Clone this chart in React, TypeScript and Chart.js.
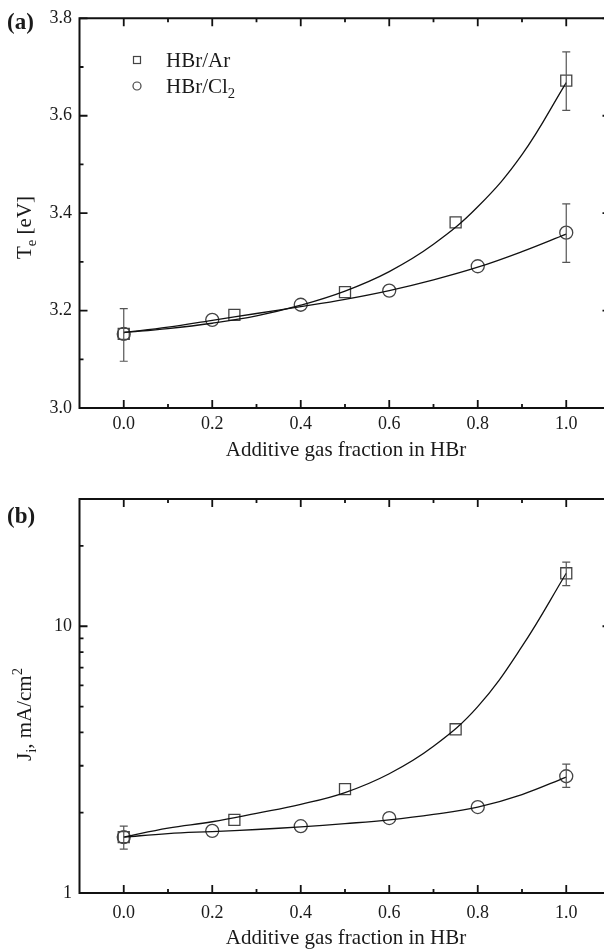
import React, { useEffect, useRef } from 'react';
import { Chart, registerables } from 'chart.js';
Chart.register(...registerables);

const FONT = "'Liberation Serif', 'Times New Roman', serif";

// ---------- Panel (a): electron temperature ----------
const xAr = [0, 0.25, 0.5, 0.75, 1.0];
const xCl = [0, 0.2, 0.4, 0.6, 0.8, 1.0];
const teAr = [3.152, 3.191, 3.238, 3.381, 3.672];
const teCl = [3.152, 3.181, 3.212, 3.241, 3.291, 3.36];
const teArLo = [3.096, null, null, null, 3.611];
const teArHi = [3.204, null, null, null, 3.731];
const teClLo = [null, null, null, null, null, 3.299];
const teClHi = [null, null, null, null, null, 3.419];
const fitX = [0, 0.1, 0.2, 0.3, 0.4, 0.5, 0.6, 0.7, 0.8, 0.9, 1.0];
const fitTeAr = [3.155, 3.163, 3.174, 3.189, 3.211, 3.24, 3.28, 3.336, 3.413, 3.52, 3.668];
const fitTeCl = [3.155, 3.166, 3.18, 3.194, 3.208, 3.223, 3.241, 3.263, 3.289, 3.321, 3.357];

// ---------- Panel (b): ion current density ----------
const jAr = [1.62, 1.88, 2.45, 4.11, 15.8];
const jCl = [1.62, 1.71, 1.78, 1.91, 2.1, 2.74];
const jArLo = [1.46, null, null, null, 14.2];
const jArHi = [1.78, null, null, null, 17.4];
const jClLo = [null, null, null, null, null, 2.49];
const jClHi = [null, null, null, null, null, 3.04];
const fitJAr = [1.62, 1.75, 1.85, 1.99, 2.15, 2.38, 2.8, 3.55, 5.0, 8.4, 15.8];
const fitJCl = [1.62, 1.67, 1.7, 1.73, 1.77, 1.82, 1.88, 1.97, 2.1, 2.34, 2.72];

// ---------- ticks ----------
const xTicks = [0, 0.2, 0.4, 0.6, 0.8, 1.0];
const xMinor = [0.1, 0.3, 0.5, 0.7, 0.9];
const teTicks = [3.0, 3.2, 3.4, 3.6, 3.8];
const teMinor = [3.1, 3.3, 3.5, 3.7];
const jTicks = [1, 10];
const jMinor = [2, 3, 4, 5, 6, 7, 8, 9, 20];

const xTitle = 'Additive gas fraction in HBr';
const legendAr = 'HBr/Ar';
const legendCl = 'HBr/Cl';

type Part = { t: string; sub?: boolean; sup?: boolean };

function fnt(size: number, bold = false) {
  return `${bold ? 'bold ' : ''}${size}px ${FONT}`;
}

function richWidth(ctx: CanvasRenderingContext2D, parts: Part[], fs: number) {
  let w = 0;
  for (const p of parts) {
    ctx.font = fnt(p.sub || p.sup ? fs * 0.7 : fs);
    w += ctx.measureText(p.t).width;
  }
  return w;
}

function drawRich(ctx: CanvasRenderingContext2D, parts: Part[], x: number, y: number, fs: number, align: 'left' | 'center') {
  const w = richWidth(ctx, parts, fs);
  let cx = align === 'center' ? x - w / 2 : x;
  ctx.textAlign = 'left';
  ctx.textBaseline = 'alphabetic';
  for (const p of parts) {
    const size = p.sub || p.sup ? fs * 0.7 : fs;
    const dy = p.sub ? fs * 0.24 : p.sup ? -fs * 0.42 : 0;
    ctx.font = fnt(size);
    ctx.fillText(p.t, cx, y + dy);
    cx += ctx.measureText(p.t).width;
  }
}

type Cfg = {
  xMajor: number[];
  xMin: number[];
  yMajor: number[];
  yMin: number[];
  errs: { x: number[]; lo: (number | null)[]; hi: (number | null)[] }[];
  yTitle: Part[];
  yTitleY: number;
  xTitleY: number;
  label: string;
  labelY: number;
  legend: boolean;
};

function decoPlugin(cfg: Cfg) {
  return {
    id: 'deco',
    afterDatasetsDraw(chart: any) {
      const { ctx, chartArea: a, scales } = chart;
      const xs = scales.x;
      const ys = scales.y;
      ctx.save();
      // error bars
      ctx.strokeStyle = '#555';
      ctx.lineWidth = 1.2;
      for (const e of cfg.errs) {
        e.x.forEach((xv, i) => {
          const lo = e.lo[i];
          const hi = e.hi[i];
          if (lo == null || hi == null) return;
          const px = xs.getPixelForValue(xv);
          const pl = ys.getPixelForValue(lo);
          const ph = ys.getPixelForValue(hi);
          ctx.beginPath();
          ctx.moveTo(px, pl);
          ctx.lineTo(px, ph);
          ctx.moveTo(px - 4, pl);
          ctx.lineTo(px + 4, pl);
          ctx.moveTo(px - 4, ph);
          ctx.lineTo(px + 4, ph);
          ctx.stroke();
        });
      }
      // frame
      ctx.strokeStyle = '#111';
      ctx.lineWidth = 2;
      ctx.beginPath();
      ctx.moveTo(a.left, a.top);
      ctx.lineTo(a.right, a.top);
      ctx.lineTo(a.right, a.bottom);
      ctx.lineTo(a.left, a.bottom);
      ctx.closePath();
      ctx.stroke();
      // tick marks (inward on all sides)
      ctx.lineWidth = 1.8;
      const tickX = (v: number, L: number) => {
        const px = xs.getPixelForValue(v);
        ctx.beginPath();
        ctx.moveTo(px, a.bottom);
        ctx.lineTo(px, a.bottom - L);
        ctx.moveTo(px, a.top);
        ctx.lineTo(px, a.top + L);
        ctx.stroke();
      };
      const tickY = (v: number, L: number) => {
        const py = ys.getPixelForValue(v);
        ctx.beginPath();
        ctx.moveTo(a.left, py);
        ctx.lineTo(a.left + L, py);
        ctx.moveTo(a.right, py);
        ctx.lineTo(a.right - L, py);
        ctx.stroke();
      };
      cfg.xMajor.forEach((v) => tickX(v, 8));
      cfg.xMin.forEach((v) => tickX(v, 4));
      cfg.yMajor.forEach((v) => tickY(v, 8));
      cfg.yMin.forEach((v) => tickY(v, 4));

      // texts
      ctx.fillStyle = '#1a1a1a';
      drawRich(ctx, [{ t: xTitle }], 346, cfg.xTitleY, 21, 'center');
      ctx.save();
      ctx.translate(30.5, cfg.yTitleY);
      ctx.rotate(-Math.PI / 2);
      drawRich(ctx, cfg.yTitle, 0, 0, 21, 'center');
      ctx.restore();
      ctx.font = fnt(23, true);
      ctx.textAlign = 'left';
      ctx.textBaseline = 'alphabetic';
      ctx.fillText(cfg.label, 7, cfg.labelY);

      if (cfg.legend) {
        ctx.strokeStyle = '#444';
        ctx.lineWidth = 1.2;
        ctx.strokeRect(137 - 3.5, 60 - 3.5, 7, 7);
        ctx.beginPath();
        ctx.arc(137, 86, 4, 0, Math.PI * 2);
        ctx.stroke();
        ctx.fillStyle = '#1a1a1a';
        drawRich(ctx, [{ t: legendAr }], 166, 67, 21, 'left');
        drawRich(ctx, [{ t: legendCl }, { t: '2', sub: true }], 166, 93, 21, 'left');
      }
      ctx.restore();
    },
  };
}

function makeChart(
  canvas: HTMLCanvasElement,
  opts: {
    yType: 'linear' | 'logarithmic';
    yMin: number;
    yMax: number;
    yTicks: number[];
    yFmt: (v: number) => string;
    padTop: number;
    xAxisH: number;
    xTickPad: number;
    ar: number[];
    cl: number[];
    fitAr: number[];
    fitCl: number[];
    cfg: Cfg;
  }
) {
  const fitLine = (vals: number[]) => ({
    type: 'line' as const,
    data: fitX.map((x, i) => ({ x, y: vals[i] })),
    borderColor: '#111',
    borderWidth: 1.3,
    pointRadius: 0,
    tension: 0.4,
    fill: false,
    showLine: true,
  });
  const marks = (xs: number[], vals: number[], style: string, r: number) => ({
    type: 'line' as const,
    data: xs.map((x, i) => ({ x, y: vals[i] })),
    showLine: false,
    pointStyle: style,
    pointRadius: r,
    pointBorderColor: '#444',
    pointBorderWidth: 1.3,
    pointBackgroundColor: 'rgba(0,0,0,0)',
    borderColor: '#444',
  });
  return new Chart(canvas, {
    type: 'line',
    data: {
      datasets: [
        fitLine(opts.fitAr),
        fitLine(opts.fitCl),
        marks(xAr, opts.ar, 'rect', 7.8),
        marks(xCl, opts.cl, 'circle', 6.5),
      ] as any,
    },
    options: {
      animation: false,
      responsive: false,
      devicePixelRatio: 1,
      events: [],
      layout: { autoPadding: false, padding: { left: 0, right: 9.5, top: opts.padTop, bottom: 0 } },
      plugins: { legend: { display: false }, tooltip: { enabled: false } },
      scales: {
        x: {
          type: 'linear',
          min: -0.1,
          max: 1.1,
          grid: { display: false, drawTicks: false },
          border: { display: false },
          afterBuildTicks: (s: any) => {
            s.ticks = xTicks.map((v) => ({ value: v }));
          },
          afterFit: (s: any) => {
            s.height = opts.xAxisH;
          },
          ticks: {
            padding: opts.xTickPad,
            color: '#1a1a1a',
            font: { family: FONT, size: 18 },
            maxRotation: 0,
            autoSkip: false,
            callback: (v: any) => Number(v).toFixed(1),
          },
        },
        y: {
          type: opts.yType,
          min: opts.yMin,
          max: opts.yMax,
          grid: { display: false, drawTicks: false },
          border: { display: false },
          afterBuildTicks: (s: any) => {
            s.ticks = opts.yTicks.map((v) => ({ value: v }));
          },
          afterFit: (s: any) => {
            s.width = 79.5;
          },
          ticks: {
            padding: 7.5,
            color: '#1a1a1a',
            font: { family: FONT, size: 18 },
            autoSkip: false,
            callback: (v: any) => opts.yFmt(Number(v)),
          },
        } as any,
      },
    },
    plugins: [decoPlugin(opts.cfg)],
  });
}

export default function App() {
  const refA = useRef<HTMLCanvasElement>(null);
  const refB = useRef<HTMLCanvasElement>(null);

  useEffect(() => {
    const a = makeChart(refA.current!, {
      yType: 'linear',
      yMin: 3.0,
      yMax: 3.8,
      yTicks: teTicks,
      yFmt: (v) => v.toFixed(1),
      padTop: 15,
      xAxisH: 475 - 408,
      xTickPad: 5,
      ar: teAr,
      cl: teCl,
      fitAr: fitTeAr,
      fitCl: fitTeCl,
      cfg: {
        xMajor: xTicks,
        xMin: xMinor,
        yMajor: teTicks,
        yMin: teMinor,
        errs: [
          { x: xAr, lo: teArLo, hi: teArHi },
          { x: xCl, lo: teClLo, hi: teClHi },
        ],
        yTitle: [{ t: 'T' }, { t: 'e', sub: true }, { t: ' [eV]' }],
        yTitleY: 227.5,
        xTitleY: 456,
        label: '(a)',
        labelY: 29,
        legend: true,
      },
    });
    const b = makeChart(refB.current!, {
      yType: 'logarithmic',
      yMin: 1,
      yMax: 30,
      yTicks: jTicks,
      yFmt: (v) => String(Math.round(v)),
      padTop: 499 - 475,
      xAxisH: 475 - (893 - 475),
      xTickPad: 9,
      ar: jAr,
      cl: jCl,
      fitAr: fitJAr,
      fitCl: fitJCl,
      cfg: {
        xMajor: xTicks,
        xMin: xMinor,
        yMajor: jTicks,
        yMin: jMinor,
        errs: [
          { x: xAr, lo: jArLo, hi: jArHi },
          { x: xCl, lo: jClLo, hi: jClHi },
        ],
        yTitle: [{ t: 'J' }, { t: 'i', sub: true }, { t: ', mA/cm' }, { t: '2', sup: true }],
        yTitleY: 714.5 - 475,
        xTitleY: 944 - 475,
        label: '(b)',
        labelY: 523 - 475,
        legend: false,
      },
    });
    return () => {
      a.destroy();
      b.destroy();
    };
  }, []);

  return (
    <div
      style={{
        position: 'absolute',
        left: 0,
        top: 0,
        width: 604,
        height: 950,
        overflow: 'hidden',
        background: '#fff',
      }}
    >
      <canvas ref={refA} width={620} height={475} style={{ position: 'absolute', left: 0, top: 0 }} />
      <canvas ref={refB} width={620} height={475} style={{ position: 'absolute', left: 0, top: 475 }} />
    </div>
  );
}
